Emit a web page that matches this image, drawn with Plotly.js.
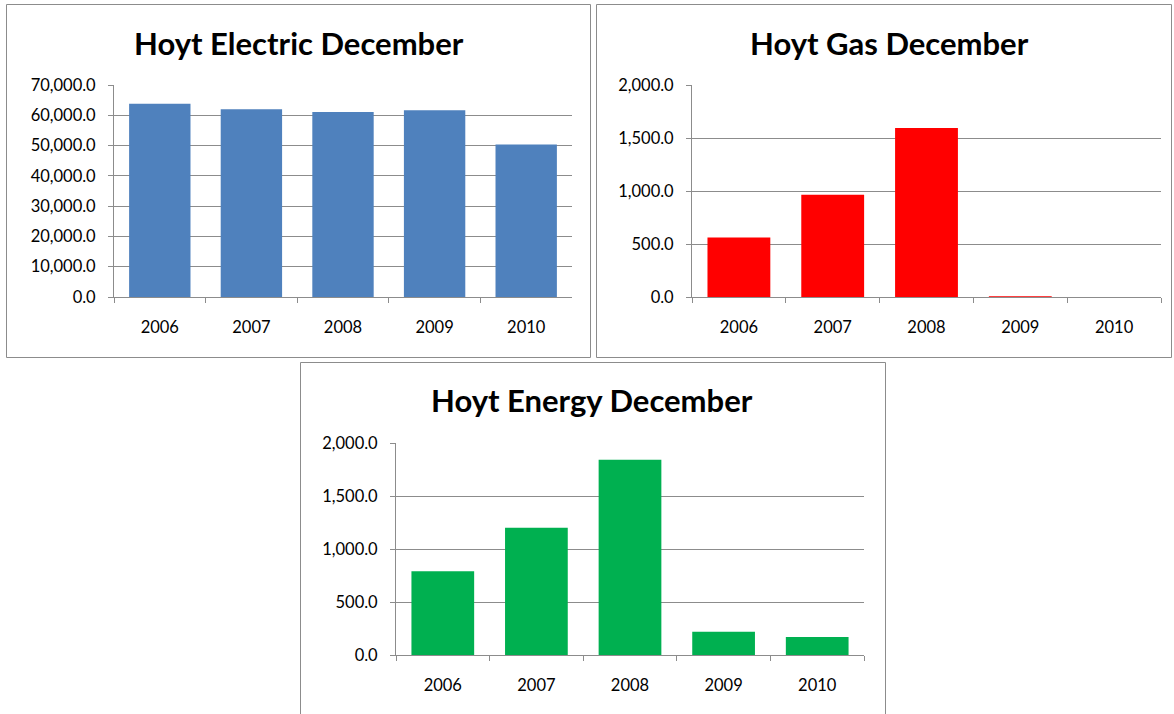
<!DOCTYPE html>
<html>
<head>
<meta charset="utf-8">
<script src="https://cdn.plot.ly/plotly-3.0.1.min.js"></script>
<style>html,body{margin:0;padding:0;background:#fff;}#chart{width:1174px;height:714px;}</style>
</head>
<body>
<div id="chart"></div>
<script>
const years = ["2006", "2007", "2008", "2009", "2010"];
const electric = [63840, 61960, 61080, 61630, 50390];
const gas = [561, 964, 1594, 8, 0];
const energy = [789, 1201, 1843, 220, 170];
const titles = ["Hoyt Electric December", "Hoyt Gas December", "Hoyt Energy December"];
const colors = ["#4F81BD", "#FF0000", "#00B050"];

const W = 1174, H = 714;
const px = v => v / W;
const py = v => 1 - v / H;
const FONT = "Lato, 'Open Sans', sans-serif";

const traces = [
  {type: "bar", x: years, y: electric, xaxis: "x", yaxis: "y", marker: {color: colors[0]}, hoverinfo: "x+y"},
  {type: "bar", x: years, y: gas, xaxis: "x2", yaxis: "y2", marker: {color: colors[1]}, hoverinfo: "x+y"},
  {type: "bar", x: years, y: energy, xaxis: "x3", yaxis: "y3", marker: {color: colors[2]}, hoverinfo: "x+y"}
];

function xAx(dom, anchor) {
  return {
    domain: dom, anchor: anchor, type: "category",
    showgrid: false, showline: true, linecolor: "#8c8c8c", linewidth: 1,
    ticks: "outside", ticklen: 5, tickcolor: "#8c8c8c", tickson: "boundaries",
    ticklabelstandoff: 15,
    tickfont: {family: FONT, size: 16.5, color: "#000"}, zeroline: false, fixedrange: true
  };
}
function yAx(dom, anchor, max, dt) {
  return {
    domain: dom, anchor: anchor, range: [0, max], dtick: dt, tick0: 0,
    tickformat: ",.1f", showgrid: true, gridcolor: "#8c8c8c", gridwidth: 1,
    showline: true, linecolor: "#8c8c8c", linewidth: 1,
    ticks: "outside", ticklen: 5, tickcolor: "#8c8c8c",
    ticklabelstandoff: 9,
    tickfont: {family: FONT, size: 16.5, color: "#000"}, zeroline: false, fixedrange: true
  };
}

const layout = {
  width: W, height: H, margin: {l: 0, r: 0, t: 0, b: 0},
  paper_bgcolor: "#fff", plot_bgcolor: "#fff", showlegend: false, bargap: 0.33,
  xaxis: xAx([px(114), px(572)], "y"),
  yaxis: yAx([py(297), py(85)], "x", 70000, 10000),
  xaxis2: xAx([px(692), px(1161)], "y2"),
  yaxis2: yAx([py(297), py(85)], "x2", 2000, 500),
  xaxis3: xAx([px(396), px(864)], "y3"),
  yaxis3: yAx([py(655), py(443)], "x3", 2000, 500),
  shapes: [
    {type: "rect", xref: "paper", yref: "paper", x0: px(6.5), x1: px(590.5), y0: py(4.5), y1: py(357.5), line: {color: "#8c8c8c", width: 1}},
    {type: "rect", xref: "paper", yref: "paper", x0: px(596.5), x1: px(1171.5), y0: py(4.5), y1: py(357.5), line: {color: "#8c8c8c", width: 1}},
    {type: "rect", xref: "paper", yref: "paper", x0: px(300.5), x1: px(885.5), y0: py(362.5), y1: py(720), line: {color: "#8c8c8c", width: 1}}
  ],
  annotations: [
    {xref: "paper", yref: "paper", x: px(299), y: py(43), text: "<b>" + titles[0] + "</b>", showarrow: false, xanchor: "center", yanchor: "middle", font: {family: FONT, size: 31, color: "#000"}},
    {xref: "paper", yref: "paper", x: px(889), y: py(43), text: "<b>" + titles[1] + "</b>", showarrow: false, xanchor: "center", yanchor: "middle", font: {family: FONT, size: 31, color: "#000"}},
    {xref: "paper", yref: "paper", x: px(592), y: py(400), text: "<b>" + titles[2] + "</b>", showarrow: false, xanchor: "center", yanchor: "middle", font: {family: FONT, size: 31, color: "#000"}}
  ]
};

Plotly.newPlot("chart", traces, layout, {displayModeBar: false, staticPlot: true});
</script>
</body>
</html>
